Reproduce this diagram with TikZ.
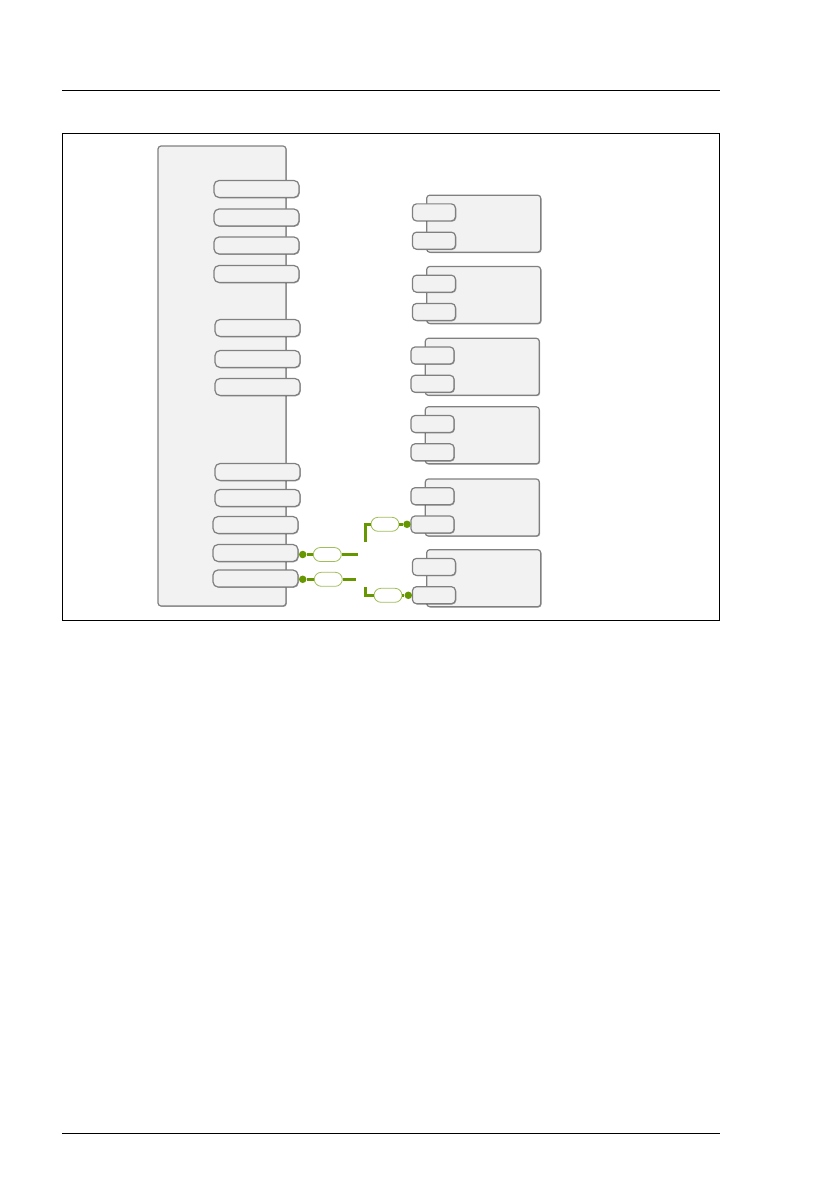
\documentclass[tikz,border=0pt]{standalone}
\usepackage{tikz}
\usepackage{xcolor}
\usetikzlibrary{shadows}
\definecolor{boxgray}{RGB}{242,242,242}
\definecolor{edgegray}{RGB}{128,128,128}
\definecolor{linkgreen}{RGB}{102,150,0}
\definecolor{pillgreen}{RGB}{160,190,90}

\begin{document}
\begin{tikzpicture}[x=1pt, y=-1pt,
    unit/.style={draw=edgegray, fill=boxgray, line width=1.2pt, rounded corners=3pt, inner sep=0pt,
        drop shadow={shadow xshift=0.8pt, shadow yshift=-0.8pt, fill=black, opacity=0.35}},
    lport/.style={unit, rounded corners=5pt, minimum width=85pt, minimum height=17pt},
    rport/.style={unit, rounded corners=4pt, minimum width=43pt, minimum height=17pt},
    module/.style={unit, minimum width=114pt, minimum height=57pt},
    pill/.style={draw=pillgreen, fill=white, line width=0.8pt, rounded corners=7pt, inner sep=0pt,
        minimum width=28pt, minimum height=14pt},
    dot/.style={circle, fill=linkgreen, inner sep=0pt, minimum size=7.5pt},
    link/.style={draw=linkgreen, line width=2.8pt}]
    \useasboundingbox (0,0) rectangle (838,1190);

    % Page rules and frame
    \coordinate (hl) at (62,90.5);
    \coordinate (hr) at (720,90.5);
    \coordinate (fl) at (62,1133.5);
    \coordinate (fr) at (720,1133.5);
    \draw[line width=1.3pt] (hl) -- (hr);
    \draw[line width=1.3pt] (fl) -- (fr);
    \draw[line width=1.3pt] (62.3,133.8) rectangle (719.3,620.3);

    % Main unit
    \node[unit, minimum width=128pt, minimum height=460pt] (main) at (222,376) {};

    % Ports of the main unit
    \foreach \i/\x/\y in {1/256.5/189, 2/256.5/217.5, 3/256.5/245.5, 4/256.5/274,
        5/257.5/328, 6/257.5/359, 7/257.5/387, 8/257.5/472, 9/257.5/498,
        10/255.5/525, 11/255.5/553, 12/255.5/578.5}
        \node[lport] (p\i) at (\x,\y) {};

    % Modules with two ports each
    \foreach \m/\x/\y in {1/483.7/223.7, 2/483.7/295, 3/482.3/366.8,
        4/482.3/435.3, 5/482.3/507.5, 6/483.7/578.2} {
        \node[module] (m\m) at (\x,\y) {};
        \node[rport] (m\m a) at (\x-49.75,\y-11.3) {};
        \node[rport] (m\m b) at (\x-49.75,\y+17) {};
    }

    % Cables from the main unit
    \node[dot] (d1) at (302.7,554.5) {};
    \node[pill] (g1) at (327.3,554.5) {};
    \coordinate (e1) at (357.7,554.5);
    \node[dot] (d2) at (302.7,579.3) {};
    \node[pill] (g2) at (328.3,579.3) {};
    \coordinate (e2) at (356,579.3);

    % Cables to the modules
    \coordinate (e3) at (365.3,542);
    \node[pill] (g3) at (385,524.3) {};
    \node[dot] (d3) at (407,524.3) {};
    \coordinate (e4) at (365.3,587.3);
    \node[pill] (g4) at (388,595.3) {};
    \node[dot] (d4) at (408.3,595.3) {};

    \draw[link] (d1) -- (g1);
    \draw[link] (g1) -- (e1);
    \draw[link] (d2) -- (g2);
    \draw[link] (g2) -- (e2);
    \draw[link] (e3) |- (g3);
    \draw[link] (g3) -- (d3);
    \draw[link] (e4) |- (g4);
    \draw[link] (g4) -- (d4);
\end{tikzpicture}
\end{document}
